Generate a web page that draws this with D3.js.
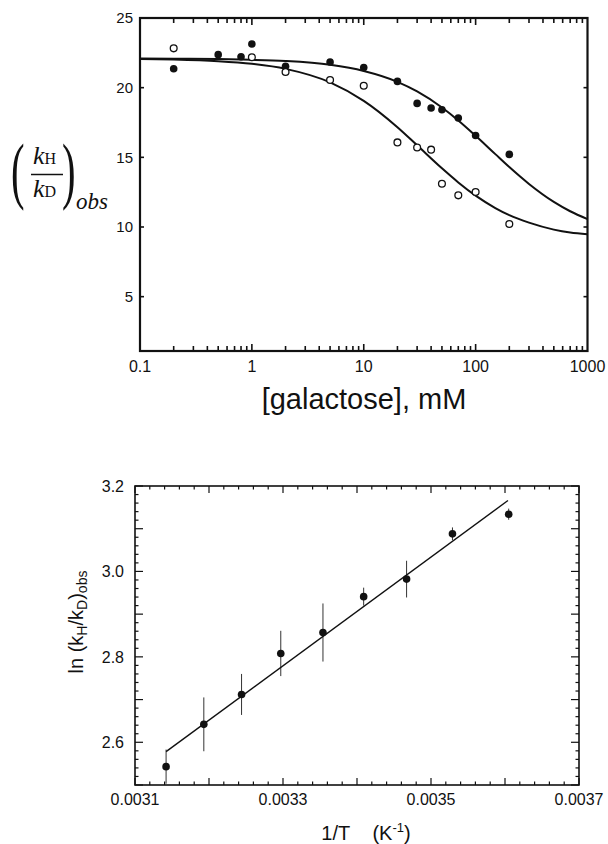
<!DOCTYPE html>
<html>
<head>
<meta charset="utf-8">
<script src="https://cdn.jsdelivr.net/npm/d3@7/dist/d3.min.js"></script>
<style>
  html, body { margin: 0; padding: 0; background: #fff; }
  svg { display: block; }
  text { fill: #111; }
</style>
</head>
<body>
<svg id="chart" width="608" height="844"></svg>
<script>
// ---------- Top panel data ----------
const filledGal = [0.2, 0.5, 0.8, 1, 2, 5, 10, 20, 30, 40, 50, 70, 100, 200];
const filledKIE = [21.36, 22.37, 22.22, 23.13, 21.53, 21.84, 21.45, 20.45, 18.87, 18.54, 18.42, 17.82, 16.57, 15.21];
const openGal = [0.2, 1, 2, 5, 10, 20, 30, 40, 50, 70, 100, 200];
const openKIE = [22.82, 22.18, 21.12, 20.55, 20.14, 16.07, 15.71, 15.55, 13.10, 12.27, 12.51, 10.21];
const curveGal = [0.1, 0.2, 0.5, 1, 2, 5, 10, 20, 30, 50, 70, 100, 150, 200, 300, 500, 700, 1000];
const filledFit = [22.09, 22.08, 22.05, 22.0, 21.91, 21.64, 21.2, 20.42, 19.73, 18.58, 17.65, 16.55, 15.23, 14.3, 13.09, 11.8, 11.13, 10.57];
const openFit = [22.06, 22.02, 21.9, 21.71, 21.35, 20.38, 19.05, 17.16, 15.86, 14.21, 13.2, 12.25, 11.36, 10.85, 10.31, 9.81, 9.6, 9.48];
const topXTicks = [0.1, 1, 10, 100, 1000];
const topYTicks = [5, 10, 15, 20, 25];

// ---------- Bottom panel data ----------
const invT = [0.003142, 0.003193, 0.003244, 0.003297, 0.003354, 0.003409, 0.003467, 0.003529, 0.003605];
const lnKIE = [2.543, 2.642, 2.712, 2.808, 2.857, 2.941, 2.982, 3.088, 3.134];
const lnErr = [0.04, 0.063, 0.048, 0.053, 0.068, 0.021, 0.043, 0.015, 0.013];
const fitInvT = [0.003142, 0.003604];
const fitLn = [2.578, 3.166];
const botXTicks = [0.0031, 0.0033, 0.0035, 0.0037];
const botYTicks = [2.6, 2.8, 3.0, 3.2];

const SANS = "'Liberation Sans', Arial, Helvetica, sans-serif";
const SERIF = "'Liberation Serif', 'Times New Roman', serif";
const svg = d3.select("#chart");

// ================= TOP PANEL =================
{
  const L = 140, R = 587.5, T = 18, B = 351;
  const x = d3.scaleLog().domain([0.1, 1000]).range([L, R]);
  const y = d3.scaleLinear().domain([1.1, 25]).range([B, T]);
  const g = svg.append("g");

  // minor + major x ticks (top and bottom, inward)
  const xt = [];
  for (let d = 0.1; d < 1000; d *= 10) {
    for (let m = 1; m <= 10; m++) xt.push({v: +(d * m).toPrecision(3), major: m === 1 || m === 10});
  }
  const uniq = Array.from(new Map(xt.map(t => [t.v, t])).values()).filter(t => t.v > 0.1 && t.v < 1000);
  uniq.forEach(t => {
    const len = t.major ? 7 : 5;
    g.append("line").attr("x1", x(t.v)).attr("x2", x(t.v)).attr("y1", B).attr("y2", B - len)
      .attr("stroke", "#111").attr("stroke-width", 1.6);
    g.append("line").attr("x1", x(t.v)).attr("x2", x(t.v)).attr("y1", T).attr("y2", T + len)
      .attr("stroke", "#111").attr("stroke-width", 1.6);
  });
  topYTicks.forEach(v => {
    g.append("line").attr("x1", L).attr("x2", L + 4).attr("y1", y(v)).attr("y2", y(v)).attr("stroke", "#111").attr("stroke-width", 1.6);
    g.append("line").attr("x1", R).attr("x2", R - 4).attr("y1", y(v)).attr("y2", y(v)).attr("stroke", "#111").attr("stroke-width", 1.6);
  });
  // frame
  g.append("rect").attr("x", L).attr("y", T).attr("width", R - L).attr("height", B - T)
    .attr("fill", "none").attr("stroke", "#111").attr("stroke-width", 2.2);

  // tick labels
  g.selectAll(".xl").data(topXTicks).join("text")
    .attr("x", d => x(d)).attr("y", 372).attr("text-anchor", "middle")
    .attr("font-family", SANS).attr("font-size", 16).text(d => d3.format("~g")(d));
  g.selectAll(".yl").data(topYTicks).join("text")
    .attr("x", 133).attr("y", d => y(d)).attr("dy", "0.36em").attr("text-anchor", "end")
    .attr("font-family", SANS).attr("font-size", 15).text(d => d);

  // fitted curves
  const line = d3.line().x(d => x(d[0])).y(d => y(d[1])).curve(d3.curveMonotoneX);
  g.append("path").datum(curveGal.map((v, i) => [v, filledFit[i]])).attr("d", line)
    .attr("fill", "none").attr("stroke", "#111").attr("stroke-width", 2);
  g.append("path").datum(curveGal.map((v, i) => [v, openFit[i]])).attr("d", line)
    .attr("fill", "none").attr("stroke", "#111").attr("stroke-width", 2);

  // points
  g.selectAll(".fp").data(filledGal.map((v, i) => [v, filledKIE[i]])).join("circle")
    .attr("cx", d => x(d[0])).attr("cy", d => y(d[1])).attr("r", 3.8).attr("fill", "#111");
  g.selectAll(".op").data(openGal.map((v, i) => [v, openKIE[i]])).join("circle")
    .attr("cx", d => x(d[0])).attr("cy", d => y(d[1])).attr("r", 3.4)
    .attr("fill", "#fff").attr("stroke", "#111").attr("stroke-width", 1.3);

  // axis titles
  g.append("text").attr("x", 364).attr("y", 409).attr("text-anchor", "middle")
    .attr("font-family", SANS).attr("font-size", 29).text("[galactose], mM");

  // y title: (kH / kD)obs
  const yt = g.append("g").attr("font-family", SERIF);
  yt.append("text").attr("transform", "translate(11,195) scale(0.55,1)").attr("font-size", 74).text("(");
  yt.append("text").attr("transform", "translate(62,195) scale(0.55,1)").attr("font-size", 74).text(")");
  const num = yt.append("text").attr("x", 33).attr("y", 164).attr("font-size", 26);
  num.append("tspan").attr("font-style", "italic").text("k");
  num.append("tspan").attr("font-size", 16).text("H");
  yt.append("line").attr("x1", 31).attr("x2", 63).attr("y1", 174.5).attr("y2", 174.5)
    .attr("stroke", "#111").attr("stroke-width", 1.5);
  const den = yt.append("text").attr("x", 33).attr("y", 197).attr("font-size", 26);
  den.append("tspan").attr("font-style", "italic").text("k");
  den.append("tspan").attr("font-size", 16).text("D");
  yt.append("text").attr("x", 76).attr("y", 209).attr("font-size", 23).attr("font-style", "italic").text("obs");
}

// ================= BOTTOM PANEL =================
{
  const L = 135, R = 579, T = 486, B = 785;
  const x = d3.scaleLinear().domain([0.0031, 0.0037]).range([L, R]);
  const y = d3.scaleLinear().domain([2.5, 3.2]).range([B, T]);
  const g = svg.append("g");

  // x ticks every 0.00002, major every 0.0001
  d3.range(0, 31).forEach(i => {
    const v = 0.0031 + i * 0.00002;
    const major = i % 5 === 0;
    const len = major ? 7 : 3.5;
    g.append("line").attr("x1", x(v)).attr("x2", x(v)).attr("y1", B).attr("y2", B - len).attr("stroke", "#111").attr("stroke-width", 1.2);
    g.append("line").attr("x1", x(v)).attr("x2", x(v)).attr("y1", T).attr("y2", T + len).attr("stroke", "#111").attr("stroke-width", 1.2);
  });
  // y ticks every 0.02, major every 0.1
  d3.range(0, 36).forEach(i => {
    const v = 2.5 + i * 0.02;
    const major = i % 5 === 0;
    const len = major ? 8 : 3.5;
    g.append("line").attr("x1", L).attr("x2", L + len).attr("y1", y(v)).attr("y2", y(v)).attr("stroke", "#111").attr("stroke-width", 1.2);
    g.append("line").attr("x1", R).attr("x2", R - len).attr("y1", y(v)).attr("y2", y(v)).attr("stroke", "#111").attr("stroke-width", 1.2);
  });
  g.append("rect").attr("x", L).attr("y", T).attr("width", R - L).attr("height", B - T)
    .attr("fill", "none").attr("stroke", "#111").attr("stroke-width", 1.6);

  g.selectAll(".xl").data(botXTicks).join("text")
    .attr("x", d => x(d)).attr("y", 805).attr("text-anchor", "middle")
    .attr("font-family", SANS).attr("font-size", 16).text(d => d3.format(".4f")(d));
  g.selectAll(".yl").data(botYTicks).join("text")
    .attr("x", 124).attr("y", d => y(d)).attr("dy", "0.36em").attr("text-anchor", "end")
    .attr("font-family", SANS).attr("font-size", 16).text(d => d3.format(".1f")(d));

  // error bars (clipped to frame)
  const pts = invT.map((v, i) => ({x: v, y: lnKIE[i], e: lnErr[i]}));
  g.selectAll(".eb").data(pts).join("line")
    .attr("x1", d => x(d.x)).attr("x2", d => x(d.x))
    .attr("y1", d => Math.min(B, y(d.y - d.e))).attr("y2", d => y(d.y + d.e))
    .attr("stroke", "#333").attr("stroke-width", 1);

  // fit line
  g.append("line").attr("x1", x(fitInvT[0])).attr("y1", y(fitLn[0]))
    .attr("x2", x(fitInvT[1])).attr("y2", y(fitLn[1]))
    .attr("stroke", "#111").attr("stroke-width", 1.4);

  g.selectAll(".pt").data(pts).join("circle")
    .attr("cx", d => x(d.x)).attr("cy", d => y(d.y)).attr("r", 3.8).attr("fill", "#111");

  // x title
  const xt = g.append("text").attr("x", 366).attr("y", 840).attr("text-anchor", "middle")
    .attr("font-family", SANS).attr("font-size", 20);
  xt.append("tspan").text("1/T\u00A0\u00A0\u00A0\u00A0(K");
  xt.append("tspan").attr("font-size", 13).attr("dy", -8).text("-1");
  xt.append("tspan").attr("dy", 8).text(")");

  // y title
  const ytl = g.append("text").attr("transform", "translate(83,622) rotate(-90)")
    .attr("text-anchor", "middle").attr("font-family", SANS).attr("font-size", 20);
  ytl.append("tspan").text("ln (k");
  ytl.append("tspan").attr("font-size", 14).attr("dy", 4).text("H");
  ytl.append("tspan").attr("dy", -4).text("/k");
  ytl.append("tspan").attr("font-size", 14).attr("dy", 4).text("D");
  ytl.append("tspan").attr("dy", -4).text(")");
  ytl.append("tspan").attr("font-size", 14).attr("dy", 4).text("obs");
}
</script>
</body>
</html>
